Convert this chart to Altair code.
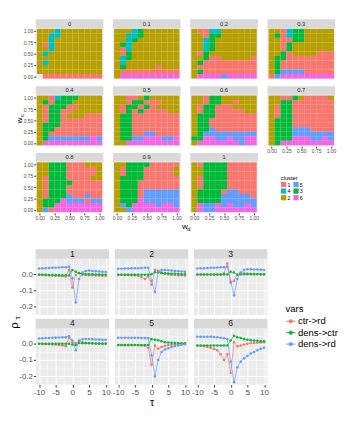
import altair as alt
import pandas as pd

# ---------------- top: cluster maps ----------------
panel_names = ["0", "0.1", "0.2", "0.3", "0.4", "0.5", "0.6", "0.7", "0.8", "0.9", "1"]
wd_levels = [0.0, 0.1, 0.2, 0.3, 0.4, 0.5, 0.6, 0.7, 0.8, 0.9, 1.0]
wc_levels = [1.0, 0.9, 0.8, 0.7, 0.6, 0.5, 0.4, 0.3, 0.2, 0.1, 0.0]  # rows top -> bottom

grid_0 = ["22242222222", "22442222222", "22422222222", "21422222222", "22422222222",
          "24222222222", "22222222222", "24222222222", "22222222222", "22222222222",
          ".1111111111"]
grid_01 = ["22243222222", "22443222222", "22432222222", "23422222222", "21422222222",
           "21322222222", "24322222222", "24222222222", "23222221222", "21111111111",
           "26666666666"]
grid_02 = ["21144222222", "22133222222", "22432222222", "22432222222", "22432222222",
           "21322222222", "22311222221", "23111111111", "21111111111", "23111111111",
           "26666566666"]
grid_03 = ["22143322222", "23143322222", "22113322222", "22132222222", "22132222222",
           "22312222111", "23311111111", "23111111111", "23111111111", "23555511111",
           "15666666666"]
grid_04 = ["22143332222", "23133322222", "21333112222", "21331122222", "21331222111",
           "21331111111", "23331111111", "23311111111", "23111111111", "23555555565",
           "26666666666"]
grid_05 = ["22112322222", "22133111222", "21331312222", "21313111122", "23311111111",
           "23311111111", "23311111111", "23311111111", "23311551111", "23355666556",
           "22666666666"]
grid_06 = ["22133222222", "22133221222", "21331112222", "21331111122", "23331111111",
           "23311111111", "23311111111", "23351111111", "23555555555", "33665565566",
           "26666666566"]
grid_07 = ["22113211112", "22331111111", "21331111111", "21331111111", "21331111111",
           "23331111111", "23331111111", "23335551111", "23335555555", "23336665565",
           "23666666666"]
grid_08 = ["22333111222", "22333111112", "22333111112", "21333111122", "21333311111",
           "21333111111", "21333111111", "21333511511", "23336555155", "23366666666",
           "25166666666"]
grid_09 = ["22333311111", "21333111112", "21333111112", "23333111111", "23331111111",
           "23331111111", "23331555555", "23331555555", "23336555555", "25366665665",
           "22566666666"]
grid_10 = ["21333311111", "22333311111", "22333311111", "21333311111", "21333311111",
           "21333311111", "23333155111", "23333555551", "23333555555", "26556565565",
           "26556666666"]
grids = [grid_0, grid_01, grid_02, grid_03, grid_04, grid_05, grid_06, grid_07,
         grid_08, grid_09, grid_10]

# legend order (column-major like ggplot): 1,4 / 2,5 / 3,6
cluster_ids = ["1", "4", "2", "5", "3", "6"]
cluster_colors = ["#F8766D", "#00BFC4", "#B79F00", "#619CFF", "#00BA38", "#F564E3"]

rows = []
for p, g in zip(panel_names, grids):
    for i, line in enumerate(g):
        for j, ch in enumerate(line):
            if ch == ".":
                continue
            rows.append(dict(panel=p, wd=wd_levels[j], wc=wc_levels[i], cluster=ch,
                             first=(i == 0 and j == 0)))
df_top = pd.DataFrame(rows)

W1, H1 = 71, 54
tick_vals = [0, 0.25, 0.5, 0.75, 1.0]
sc1 = alt.Scale(domain=[-0.07, 1.07], nice=False, zero=False)
cluster_legend = alt.Legend(title="cluster", columns=2, orient="none",
                            legendX=257, legendY=154, symbolType="square",
                            symbolSize=30, symbolStrokeWidth=0, labelFontSize=5.5,
                            titleFontSize=6, titleFontWeight="normal",
                            rowPadding=0, columnPadding=2, labelOffset=1,
                            titlePadding=1)


def axis1(show):
    if not show:
        return None
    return alt.Axis(values=tick_vals, format=".2f", title=None, labelFontSize=5.2,
                    tickSize=2, labelPadding=1, grid=False)


def spacer(left):
    # invisible box that gives every column the same left extent
    return alt.Chart().mark_rect(opacity=0).transform_filter("datum.first").encode(
        x=alt.value(-left), x2=alt.value(0), y=alt.value(0), y2=alt.value(2))


def top_panel(p, show_x, show_y, ytitle=False, xtitle=False, pad=0):
    tiles = alt.Chart().mark_rect().transform_calculate(
        x_lo="datum.wd - 0.05", x_hi="datum.wd + 0.05",
        y_lo="datum.wc - 0.05", y_hi="datum.wc + 0.05",
    ).encode(
        x=alt.X("x_lo:Q", scale=sc1, axis=axis1(show_x)),
        x2="x_hi:Q",
        y=alt.Y("y_lo:Q", scale=sc1, axis=axis1(show_y)),
        y2="y_hi:Q",
        color=alt.Color("cluster:N", scale=alt.Scale(domain=cluster_ids, range=cluster_colors),
                        legend=cluster_legend),
    )
    strip_bg = alt.Chart().mark_rect(color="#D9D9D9").transform_filter("datum.first").encode(
        x=alt.value(0), x2=alt.value(W1), y=alt.value(-9), y2=alt.value(0))
    strip_tx = alt.Chart().mark_text(fontSize=6, color="#1A1A1A").transform_filter(
        "datum.first").encode(x=alt.value(W1 / 2), y=alt.value(-4.5), text="panel:N")
    layers = [tiles, strip_bg, strip_tx]
    if pad:
        layers.append(spacer(pad))
    if ytitle:
        layers.append(alt.Chart().mark_text(fontSize=8.5, angle=270, text="w").transform_filter(
            "datum.first").encode(x=alt.value(-17), y=alt.value(H1 / 2)))
        layers.append(alt.Chart().mark_text(fontSize=6, angle=270, text="c").transform_filter(
            "datum.first").encode(x=alt.value(-14.5), y=alt.value(H1 / 2 - 5)))
    if xtitle:
        layers.append(alt.Chart().mark_text(fontSize=8.5, text="w").transform_filter(
            "datum.first").encode(x=alt.value(-5.5), y=alt.value(H1 + 14)))
        layers.append(alt.Chart().mark_text(fontSize=6, text="d").transform_filter(
            "datum.first").encode(x=alt.value(-1.5), y=alt.value(H1 + 16.5)))
    return alt.layer(*layers, data=df_top).transform_filter(
        f"datum.panel == '{p}'").properties(width=W1, height=H1)


def col(*charts, spacing):
    return alt.vconcat(*charts, spacing=spacing, bounds="flush")


E1 = 9
top_cols = [
    col(top_panel("0", False, True), top_panel("0.4", False, True, ytitle=True),
        top_panel("0.8", True, True), spacing=16),
    col(top_panel("0.1", False, False, pad=E1), top_panel("0.5", False, False),
        top_panel("0.9", True, False), spacing=16),
    col(top_panel("0.2", False, False, pad=E1), top_panel("0.6", False, False),
        top_panel("1", True, False, xtitle=True), spacing=16),
    col(top_panel("0.3", False, False, pad=E1), top_panel("0.7", True, False), spacing=16),
]
top = alt.concat(*top_cols, columns=4, align="none", spacing=0)

# ---------------- bottom: cross-correlations ----------------
tau = list(range(-10, 11))
series_names = ["ctr->rd", "dens->ctr", "dens->rd"]
series_colors = ["#F8766D", "#00BA38", "#619CFF"]
bottom_panels = ["1", "2", "3", "4", "5", "6"]

ctr_rd = {
    "1": [-0.004, -0.005, -0.006, -0.007, -0.008, -0.009, -0.010, -0.012, -0.015, 0.025,
          -0.082, -0.005, 0.008, -0.003, -0.005, -0.006, -0.007, -0.008, -0.009, -0.010, -0.010],
    "2": [-0.004, -0.004, -0.005, -0.005, -0.006, -0.006, -0.010, -0.018, -0.030, -0.015,
          -0.065, 0.025, 0.022, 0.010, 0.002, -0.002, -0.004, -0.005, -0.006, -0.007, -0.008],
    "3": [-0.002, -0.002, -0.002, -0.002, -0.002, -0.002, -0.002, -0.002, 0.005, 0.065,
          -0.055, -0.040, 0.000, 0.005, 0.005, 0.004, 0.003, 0.002, 0.001, 0.000, 0.000],
    "4": [0.000, -0.001, -0.002, -0.003, -0.004, -0.005, -0.008, -0.010, -0.015, 0.038,
          0.010, 0.004, 0.015, 0.010, 0.006, 0.004, 0.003, 0.002, 0.001, 0.000, 0.000],
    "5": [-0.008, -0.008, -0.008, -0.008, -0.008, -0.008, -0.009, -0.010, -0.012, -0.025,
          -0.130, -0.010, -0.030, -0.020, -0.012, -0.008, -0.006, -0.004, -0.002, 0.000, 0.000],
    "6": [-0.010, -0.012, -0.015, -0.020, -0.025, -0.030, -0.040, -0.065, -0.100, -0.065,
          -0.180, 0.010, -0.015, -0.010, -0.005, 0.000, 0.003, 0.005, 0.007, 0.008, 0.010],
}
dens_ctr = {
    "1": [-0.003, -0.004, -0.004, -0.005, -0.005, -0.006, -0.006, -0.007, -0.007, -0.008,
          0.025, 0.015, 0.005, 0.002, 0.000, 0.000, -0.001, -0.002, -0.002, -0.003, -0.003],
    "2": [-0.003, -0.003, -0.003, -0.003, -0.003, -0.003, -0.003, -0.003, -0.003, -0.003,
          0.000, 0.012, 0.010, 0.006, 0.005, 0.004, 0.003, 0.002, 0.001, 0.000, 0.000],
    "3": [-0.002, -0.002, -0.002, -0.002, -0.002, -0.002, -0.002, -0.002, -0.002, -0.002,
          0.015, 0.010, -0.005, 0.000, 0.000, 0.000, 0.000, 0.000, 0.000, 0.000, 0.000],
    "4": [0.000, 0.000, 0.000, 0.000, 0.000, 0.000, 0.000, 0.000, 0.000, 0.000,
          -0.005, -0.008, 0.005, 0.003, 0.003, 0.003, 0.002, 0.002, 0.002, 0.001, 0.001],
    "5": [-0.008, -0.008, -0.008, -0.008, -0.008, -0.008, -0.008, -0.008, -0.008, -0.008,
          0.030, 0.025, 0.022, 0.015, 0.010, 0.008, 0.006, 0.005, 0.004, 0.003, 0.003],
    "6": [-0.010, -0.010, -0.010, -0.010, -0.010, -0.010, -0.010, -0.010, -0.010, -0.010,
          0.020, 0.050, 0.040, 0.035, 0.030, 0.025, 0.022, 0.020, 0.018, 0.016, 0.015],
}
dens_rd = {
    "1": [0.035, 0.036, 0.037, 0.038, 0.039, 0.040, 0.041, 0.042, 0.043, 0.045,
          -0.025, -0.175, -0.030, 0.010, 0.020, 0.022, 0.020, 0.018, 0.016, 0.015, 0.013],
    "2": [0.033, 0.034, 0.035, 0.035, 0.036, 0.036, 0.037, 0.038, 0.039, 0.040,
          -0.040, -0.110, 0.015, 0.025, 0.025, 0.024, 0.022, 0.020, 0.018, 0.017, 0.015],
    "3": [0.035, 0.036, 0.037, 0.038, 0.039, 0.040, 0.041, 0.042, 0.043, 0.045,
          -0.045, -0.130, -0.030, 0.010, 0.025, 0.030, 0.030, 0.029, 0.028, 0.027, 0.025],
    "4": [0.033, 0.034, 0.035, 0.036, 0.037, 0.038, 0.039, 0.040, 0.041, 0.048,
          0.020, -0.040, 0.020, 0.028, 0.030, 0.029, 0.028, 0.027, 0.026, 0.025, 0.025],
    "5": [0.037, 0.037, 0.037, 0.037, 0.037, 0.037, 0.037, 0.036, 0.036, 0.035,
          -0.070, -0.200, -0.100, -0.050, -0.035, -0.027, -0.020, -0.014, -0.010, -0.006, -0.003],
    "6": [0.043, 0.043, 0.043, 0.043, 0.043, 0.042, 0.040, 0.037, 0.034, 0.030,
          -0.110, -0.237, -0.145, -0.110, -0.090, -0.075, -0.060, -0.050, -0.040, -0.030, -0.025],
}

brows = []
for p in bottom_panels:
    for name, src in zip(series_names, [ctr_rd, dens_ctr, dens_rd]):
        for k, (t, v) in enumerate(zip(tau, src[p])):
            brows.append(dict(panel=p, tau=t, rho=v, vars=name,
                              first=(k == 0 and name == series_names[0])))
df_bot = pd.DataFrame(brows)

W2, H2 = 77, 59
x_vals = [-10, -7.5, -5, -2.5, 0, 2.5, 5, 7.5, 10]
y_vals = [-0.25, -0.2, -0.15, -0.1, -0.05, 0.0, 0.05]
x_major = "datum.value % 5 === 0"
y_major = "abs(round(datum.value * 100)) % 10 === 0"


def x_axis2(show, title=None):
    return alt.Axis(values=x_vals, title=title, titleFontSize=11, titlePadding=1,
                    labelFontSize=8.5, labelPadding=1, labels=show,
                    ticks=show, tickSize=2.5,
                    labelExpr=f"{x_major} ? replace(format(datum.value, 'd'), '\u2212', '-') : ''",
                    tickOpacity={"condition": {"test": x_major, "value": 1}, "value": 0},
                    gridWidth={"condition": {"test": x_major, "value": 1}, "value": 0.5})


def y_axis2(show):
    return alt.Axis(values=y_vals, title=None,
                    labelFontSize=8.2, labelPadding=1, labels=show,
                    ticks=show, tickSize=2.5,
                    labelExpr=f"{y_major} ? replace(format(datum.value, '.1f'), '\u2212', '-') : ''",
                    tickOpacity={"condition": {"test": y_major, "value": 1}, "value": 0},
                    gridWidth={"condition": {"test": y_major, "value": 1}, "value": 0.5})


vars_legend = alt.Legend(title="vars", orient="none", legendX=262, legendY=48,
                         symbolType="M -1 0 L 1 0 M 0.35 0 A 0.35 0.35 0 1 1 -0.35 0 A 0.35 0.35 0 1 1 0.35 0",
                         symbolSize=100, symbolStrokeWidth=1, labelFontSize=10,
                         titleFontSize=10, titleFontWeight="normal",
                         rowPadding=1, labelOffset=2, titlePadding=2)


def bottom_panel(p, show_x, show_y, xtitle=None, ytitle=False, pad=0):
    enc = dict(
        x=alt.X("tau:Q", scale=alt.Scale(domain=[-11, 11], nice=False, zero=False),
                axis=x_axis2(show_x, xtitle)),
        y=alt.Y("rho:Q", scale=alt.Scale(domain=[-0.252, 0.095], nice=False, zero=False),
                axis=y_axis2(show_y)),
        color=alt.Color("vars:N", scale=alt.Scale(domain=series_names, range=series_colors),
                        legend=vars_legend),
    )
    lines = alt.Chart().mark_line(strokeWidth=0.7).encode(**enc)
    pts = alt.Chart().mark_circle(size=7, opacity=1).encode(**enc)
    strip_bg = alt.Chart().mark_rect(color="#D9D9D9").transform_filter("datum.first").encode(
        x=alt.value(0), x2=alt.value(W2), y=alt.value(-10), y2=alt.value(0))
    strip_tx = alt.Chart().mark_text(fontSize=9, color="#1A1A1A").transform_filter(
        "datum.first").encode(x=alt.value(W2 / 2), y=alt.value(-5), text="panel:N")
    layers = [lines, pts, strip_bg, strip_tx]
    if pad:
        layers.append(spacer(pad))
    if ytitle:
        layers.append(alt.Chart().mark_text(fontSize=12, angle=270, text="ρ").transform_filter(
            "datum.first").encode(x=alt.value(-23), y=alt.value(-3)))
        layers.append(alt.Chart().mark_text(fontSize=8.5, angle=270, text="τ").transform_filter(
            "datum.first").encode(x=alt.value(-19.5), y=alt.value(-11)))
    return alt.layer(*layers, data=df_bot).transform_filter(
        f"datum.panel == '{p}'").properties(width=W2, height=H2)


E2 = 4
bottom_cols = [
    col(bottom_panel("1", False, True), bottom_panel("4", True, True, ytitle=True), spacing=14),
    col(bottom_panel("2", False, False, pad=E2), bottom_panel("5", True, False, xtitle="τ"),
        spacing=14),
    col(bottom_panel("3", False, False, pad=E2), bottom_panel("6", True, False), spacing=14),
]
bottom = alt.concat(*bottom_cols, columns=3, align="none", spacing=0)

chart = alt.concat(top, bottom, columns=1, align="none", spacing=18).resolve_scale(
    color="independent"
).configure(
    font="Liberation Sans",
    padding={"left": 0, "top": 2, "right": 0, "bottom": 0},
).configure_view(
    fill="#EBEBEB", stroke=None
).configure_axis(
    grid=True, gridColor="#FFFFFF", domain=False, tickColor="#333333",
    labelColor="#4D4D4D", titleColor="#000000", titleFontWeight="normal",
).configure_legend(
    labelColor="#000000", titleColor="#000000",
)

chart.save("out.html", embed_options={"renderer": "svg", "actions": False})
